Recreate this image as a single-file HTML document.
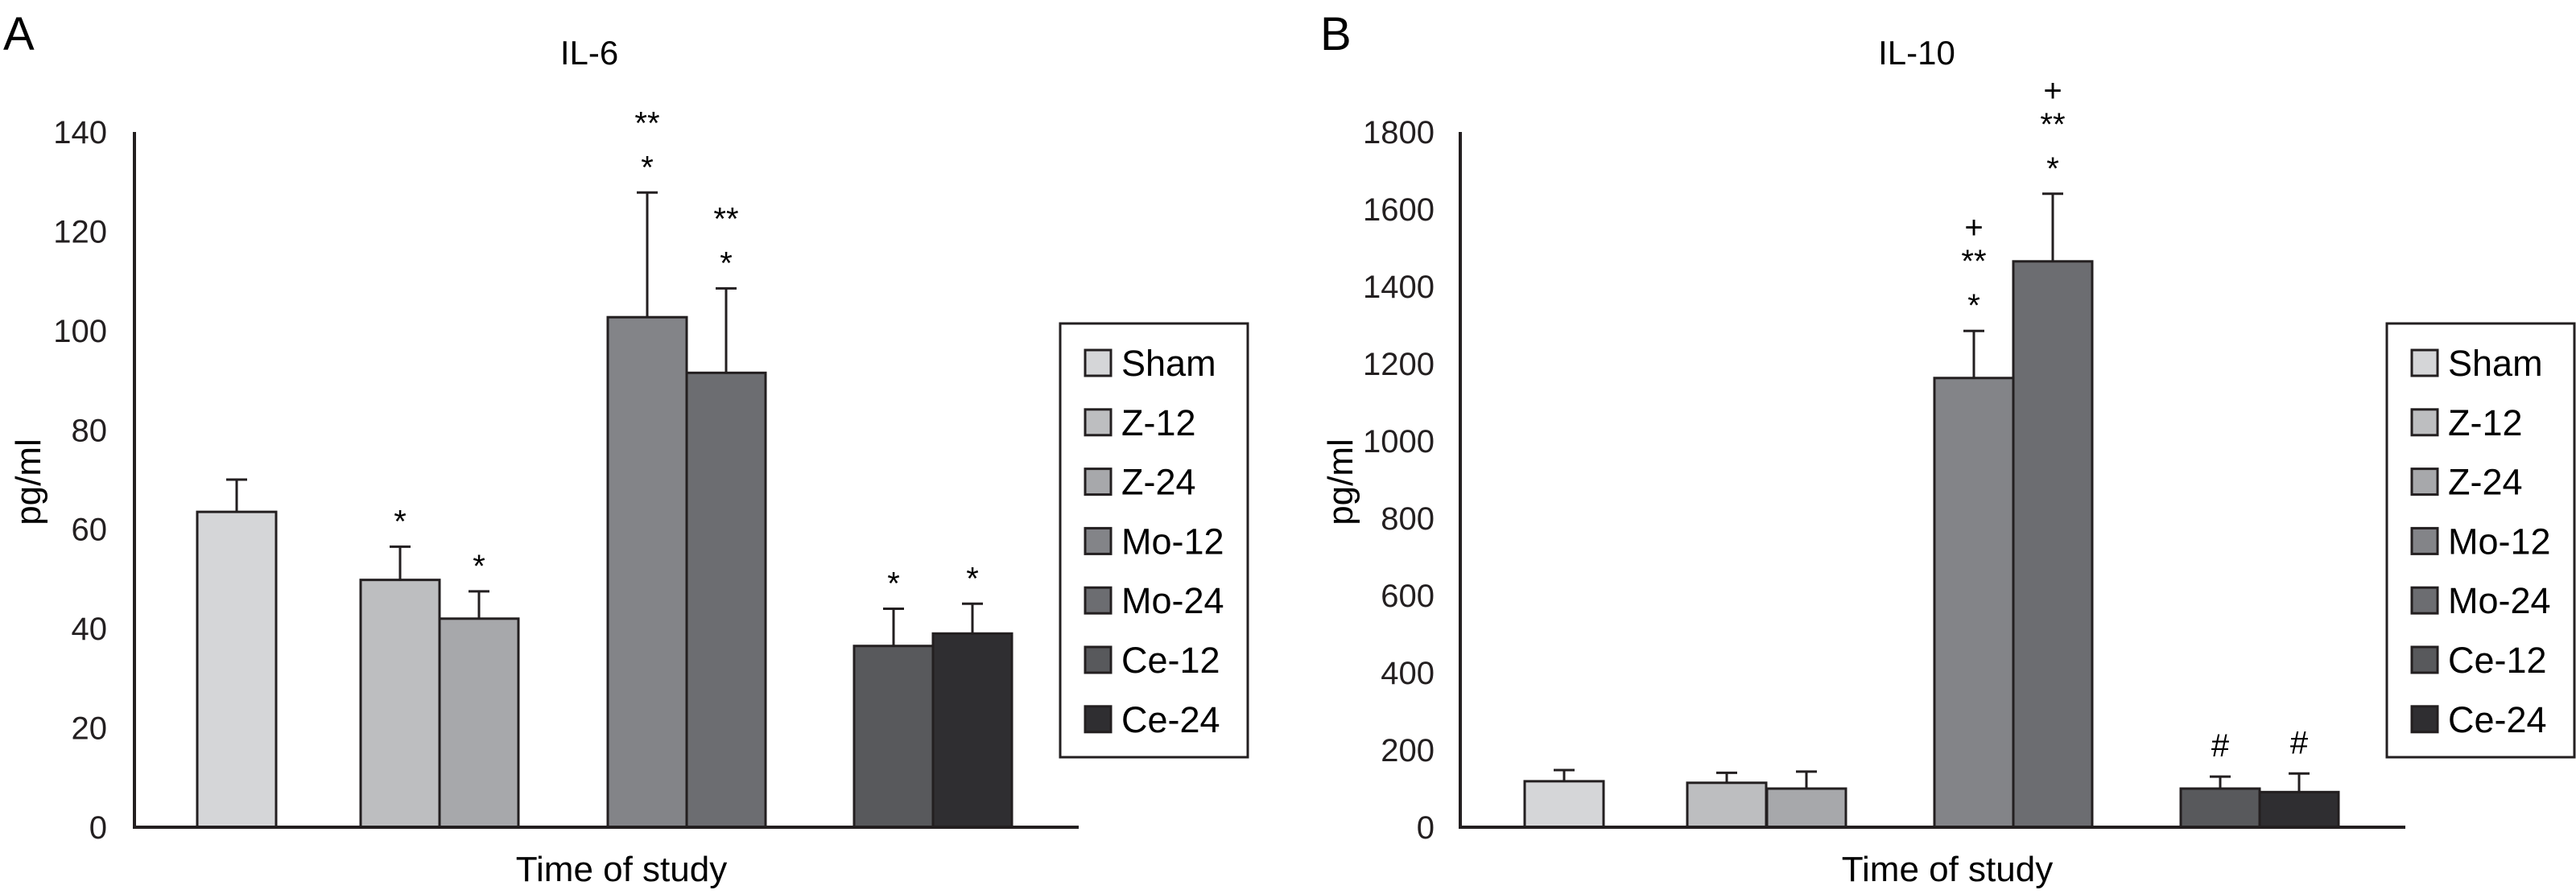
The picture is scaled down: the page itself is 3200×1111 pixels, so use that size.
<!DOCTYPE html>
<html><head><meta charset="utf-8">
<style>
html,body{margin:0;padding:0;background:#fff;}
svg{display:block;font-family:"Liberation Sans",Arial,sans-serif;}
</style></head>
<body>
<svg id="chart" width="3200" height="1111" viewBox="0 0 3200 1111" xmlns="http://www.w3.org/2000/svg"></svg>
<script>
const categories = ["Sham","Z-12","Z-24","Mo-12","Mo-24","Ce-12","Ce-24"];
const il6Values = [63.5, 49.8, 42, 102.7, 91.5, 36.5, 39];
const il6Errors = [6.5, 6.7, 5.5, 25.1, 17, 7.5, 6];
const il6Marks = [[], ["*"], ["*"], ["*","**"], ["*","**"], ["*"], ["*"]];
const il6Ticks = [0,20,40,60,80,100,120,140];
const il10Values = [119, 115, 100, 1163, 1465, 100, 91];
const il10Errors = [29, 26, 44, 122, 175, 31, 48];
const il10Marks = [[], [], [], ["*","**","+"], ["*","**","+"], ["#"], ["#"]];
const il10Ticks = [0,200,400,600,800,1000,1200,1400,1600,1800];
const colors = ["#d5d6d8","#bdbec0","#a7a8ab","#838488","#6c6d71","#58595c","#2f2e31"];

const svg = document.getElementById('chart');
const NS = "http://www.w3.org/2000/svg";
function el(tag, attrs, parent){ const e=document.createElementNS(NS,tag); for(const k in attrs) e.setAttribute(k,attrs[k]); (parent||svg).appendChild(e); return e; }
function txt(str, attrs, parent){ const t=el('text',attrs,parent); t.textContent=str; return t; }

function panel(cfg){
  const g = el('g',{});
  
  
  const y0=1028, yTop=164, ax=cfg.axisX;
  const ymax=cfg.ticks[cfg.ticks.length-1];
  const yScale = v => y0 - v/ymax*(y0-yTop);
  const letter = txt(cfg.letter,{x:cfg.letterX,y:62,'font-size':58},g);
  
  
  const title = txt(cfg.title,{x:cfg.titleX,y:80,'font-size':42,'text-anchor':'middle'},g);
  
  
  cfg.ticks.forEach(t=>{
    const tl = txt(String(t),{x:cfg.tickRight,y:yScale(t)+14,'font-size':40,'text-anchor':'end',fill:'#231f20'},g);
    
    
  });
  const yl = txt('pg/ml',{x:0,y:0,'font-size':44,'text-anchor':'middle',transform:`translate(${cfg.ylabelX},599) rotate(-90)`},g);
  
  
  const xl = txt('Time of study',{x:cfg.xlabelX,y:1095,'font-size':44,'text-anchor':'middle'},g);
  
  
  // bars
  cfg.values.forEach((v,i)=>{
    const x=cfg.barX[i], w=98;
    const et=yScale(v+cfg.errors[i]), yt=yScale(v);
    const eb = el('path',{d:`M${x+w/2} ${yt}V${et}M${x+w/2-13} ${et}H${x+w/2+13}`,stroke:'#231f20','stroke-width':3,fill:'none'},g);
    
    
    const r = el('rect',{x:x,y:yt,width:w,height:y0-yt,fill:colors[i],stroke:'#231f20','stroke-width':3},g);
    
    
    const offs=[33,88,130];
    cfg.marks[i].forEach((m,j)=>{
      const o = m==='#'?40:offs[j];
      const a = txt(m,{x:x+w/2,y:et-o+15,'font-size':40,'text-anchor':'middle'},g);
      
      
    });
  });
  const axes = el('path',{d:`M${ax} ${yTop}V${y0}H${cfg.axisRight}`,stroke:'#231f20','stroke-width':4,fill:'none'},g);
  
  
  // legend
  const lg = el('g',{},g);
  
  
  el('rect',{x:cfg.legX,y:402,width:233,height:539,fill:'#fff',stroke:'#231f20','stroke-width':3},lg);
  categories.forEach((c,i)=>{
    const cy=451+i*73.8;
    const e = el('g',{},lg);
    
    
    el('rect',{x:cfg.legX+31,y:cy-16,width:32,height:32,fill:colors[i],stroke:'#231f20','stroke-width':3},e);
    txt(c,{x:cfg.legX+76,y:cy+16,'font-size':45},e);
  });
}
panel({name:'panel-a-il6',letter:'A',letterX:4,title:'IL-6',titleX:732,ticks:il6Ticks,tickRight:133,ylabelX:50,xlabelX:772,
  axisX:167,axisRight:1340,values:il6Values,errors:il6Errors,marks:il6Marks,barX:[245,448,546,755,853,1061,1159],legX:1317});
panel({name:'panel-b-il10',letter:'B',letterX:1640,title:'IL-10',titleX:2381,ticks:il10Ticks,tickRight:1782,ylabelX:1680,xlabelX:2419,
  axisX:1814,axisRight:2988,values:il10Values,errors:il10Errors,marks:il10Marks,barX:[1894,2096,2195,2403,2501,2709,2807],legX:2965});
</script>
</body></html>
